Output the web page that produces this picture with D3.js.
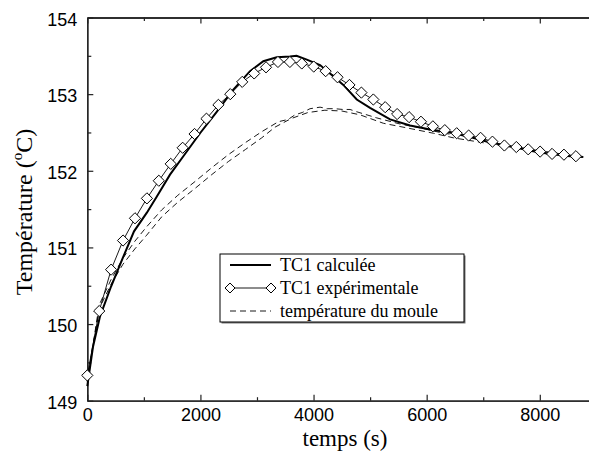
<!DOCTYPE html>
<html><head><meta charset="utf-8">
<script src="https://cdn.jsdelivr.net/npm/d3@7/dist/d3.min.js"></script>
<style>body{margin:0;background:#fff}svg{display:block}</style>
</head><body>
<svg id="c" width="589" height="452"></svg>
<script>
// ---- data ----
const expTime = [0,211,421,632,843,1054,1264,1475,1686,1896,2107,2318,2528,2739,2950,3160,3371,3582,3792,4003,4214,4424,4635,4846,5057,5267,5478,5689,5899,6110,6321,6531,6742,6953,7163,7374,7585,7795,8006,8217,8427,8638];
const expTemp = [149.33,150.17,150.71,151.09,151.38,151.64,151.87,152.09,152.30,152.48,152.68,152.86,153.00,153.16,153.27,153.35,153.42,153.42,153.40,153.36,153.30,153.22,153.12,153.02,152.93,152.83,152.74,152.70,152.64,152.58,152.53,152.49,152.46,152.43,152.38,152.33,152.31,152.28,152.25,152.22,152.21,152.19];

const calcTime = [0,100,225,420,626,826,1050,1227,1462,1698,1993,2288,2582,2877,3112,3349,3584,3700,3880,4115,4291,4527,4764,4999,5353,5707,6061,6414,6768,7122,7475,7829,8183,8537,8770];
const calcTemp = [149.19,149.70,150.10,150.49,150.86,151.21,151.45,151.66,151.95,152.19,152.49,152.77,153.06,153.30,153.43,153.48,153.49,153.50,153.45,153.38,153.27,153.12,152.93,152.82,152.67,152.59,152.54,152.50,152.44,152.37,152.32,152.26,152.22,152.19,152.18];

const moule1Time = [0,210,420,630,840,1050,1316,1600,1905,2200,2493,2800,3084,3378,3550,3673,3800,3938,4115,4250,4380,4520,4645,4764,5118,5530,5884,6295,6709,7063,7533,8005,8477,8743];
const moule1Temp = [149.25,150.25,150.58,150.86,151.08,151.27,151.49,151.68,151.86,152.04,152.21,152.37,152.51,152.64,152.67,152.73,152.76,152.81,152.83,152.81,152.81,152.80,152.80,152.77,152.69,152.61,152.56,152.49,152.45,152.38,152.32,152.26,152.21,152.18];

const moule2Time = [0,210,420,630,840,1050,1316,1600,1905,2200,2493,2800,3084,3320,3600,3900,4200,4500,4822,5234,5648,6118,6472,6886,7298,7887,8477,8743];
const moule2Temp = [149.25,150.20,150.52,150.78,150.98,151.16,151.40,151.59,151.77,151.95,152.12,152.28,152.43,152.57,152.68,152.76,152.79,152.78,152.73,152.62,152.56,152.49,152.43,152.38,152.33,152.27,152.21,152.18];

const xMajor = [0,2000,4000,6000,8000];
const xMinor = [1000,3000,5000,7000];
const yMajor = [149,150,151,152,153,154];
const yMinor = [149.5,150.5,151.5,152.5,153.5];
const xTitle = "temps (s)";
const legendLabels = ["TC1 calculée","TC1 expérimentale","température du moule"];

// ---- layout ----
const L = 87.3, R = 589, T = 17.5, B = 400.7;
const x = d3.scaleLinear().domain([0,8870]).range([L,R]);
const y = d3.scaleLinear().domain([149,154]).range([B,T]);
const svg = d3.select("#c");
const sans = "'Liberation Sans', Arial, sans-serif";
const serif = "'Liberation Serif', 'Times New Roman', serif";

function styleAxis(g){
  g.select(".domain").attr("stroke","#222").attr("stroke-width",1.3);
  g.selectAll(".tick line").attr("stroke","#222").attr("stroke-width",1.2);
  g.selectAll("text").attr("font-family",sans).attr("font-size",18).attr("fill","#000");
}
// bottom
svg.append("g").attr("transform",`translate(0,${B})`)
  .call(d3.axisBottom(x).tickValues(xMajor).tickSize(-6).tickSizeOuter(0).tickPadding(8).tickFormat(d3.format("d")))
  .call(styleAxis);
svg.append("g").attr("transform",`translate(0,${B})`)
  .call(d3.axisBottom(x).tickValues(xMinor).tickSize(-3.5).tickSizeOuter(0).tickFormat(""))
  .call(styleAxis);
// top
svg.append("g").attr("transform",`translate(0,${T})`)
  .call(d3.axisTop(x).tickValues(xMajor).tickSize(-6).tickSizeOuter(0).tickFormat(""))
  .call(styleAxis);
svg.append("g").attr("transform",`translate(0,${T})`)
  .call(d3.axisTop(x).tickValues(xMinor).tickSize(-3.5).tickSizeOuter(0).tickFormat(""))
  .call(styleAxis);
// left
svg.append("g").attr("transform",`translate(${L},0)`)
  .call(d3.axisLeft(y).tickValues(yMajor).tickSize(-6).tickSizeOuter(0).tickPadding(10).tickFormat(d3.format("d")))
  .call(styleAxis)
  .selectAll("text").attr("dy","0.42em");
svg.append("g").attr("transform",`translate(${L},0)`)
  .call(d3.axisLeft(y).tickValues(yMinor).tickSize(-4).tickSizeOuter(0).tickFormat(""))
  .call(styleAxis);

// titles
svg.append("text").attr("x",345).attr("y",446).attr("text-anchor","middle")
  .attr("font-family",serif).attr("font-size",23).text(xTitle);
const yt = svg.append("text").attr("transform","translate(32,212) rotate(-90)")
  .attr("text-anchor","middle").attr("font-family",serif).attr("font-size",24);
yt.append("tspan").text("Température (");
yt.append("tspan").attr("font-size",15).attr("dy",-10).text("o");
yt.append("tspan").attr("dy",10).text("C)");

// lines
const line = d3.line().x(d=>x(d[0])).y(d=>y(d[1]));
const zip = (a,b)=>a.map((v,i)=>[v,b[i]]);
const plot = svg.append("g");
plot.append("path").datum(zip(moule2Time,moule2Temp)).attr("d",line)
  .attr("fill","none").attr("stroke","#000").attr("stroke-width",0.9).attr("stroke-dasharray","6,4");
plot.append("path").datum(zip(moule1Time,moule1Temp)).attr("d",line)
  .attr("fill","none").attr("stroke","#000").attr("stroke-width",0.9).attr("stroke-dasharray","6,4");
plot.append("path").datum(zip(calcTime,calcTemp)).attr("d",line)
  .attr("fill","none").attr("stroke","#000").attr("stroke-width",2);
const expData = zip(expTime,expTemp);
plot.append("path").datum(expData).attr("d",line)
  .attr("fill","none").attr("stroke","#000").attr("stroke-width",0.9);
const dia = r=>`M0,${-r}L${r},0L0,${r}L${-r},0Z`;
plot.selectAll(".m").data(expData).enter().append("path")
  .attr("transform",d=>`translate(${x(d[0])},${y(d[1])})`)
  .attr("d",dia(5.6)).attr("fill","#fff").attr("stroke","#000").attr("stroke-width",1);

// legend
const lg = svg.append("g");
lg.append("rect").attr("x",221.5).attr("y",255.5).attr("width",244).attr("height",68).attr("fill","#777");
lg.append("rect").attr("x",220).attr("y",254).attr("width",244).attr("height",68)
  .attr("fill","#fff").attr("stroke","#000").attr("stroke-width",1);
const rows = [265,288,311];
const x0 = 230, x1 = 271;
lg.append("line").attr("x1",x0).attr("x2",x1).attr("y1",rows[0]).attr("y2",rows[0]).attr("stroke","#000").attr("stroke-width",2);
lg.append("line").attr("x1",x0).attr("x2",x1).attr("y1",rows[1]).attr("y2",rows[1]).attr("stroke","#000").attr("stroke-width",0.9);
[x0,x1].forEach(px=>lg.append("path").attr("transform",`translate(${px},${rows[1]})`).attr("d",dia(5)).attr("fill","#fff").attr("stroke","#000"));
lg.append("line").attr("x1",x0).attr("x2",x1).attr("y1",rows[2]).attr("y2",rows[2]).attr("stroke","#000").attr("stroke-width",0.9).attr("stroke-dasharray","6,4");
legendLabels.forEach((t,i)=>lg.append("text").attr("x",280).attr("y",rows[i]+6)
  .attr("font-family",serif).attr("font-size",18).text(t));
</script>
</body></html>
